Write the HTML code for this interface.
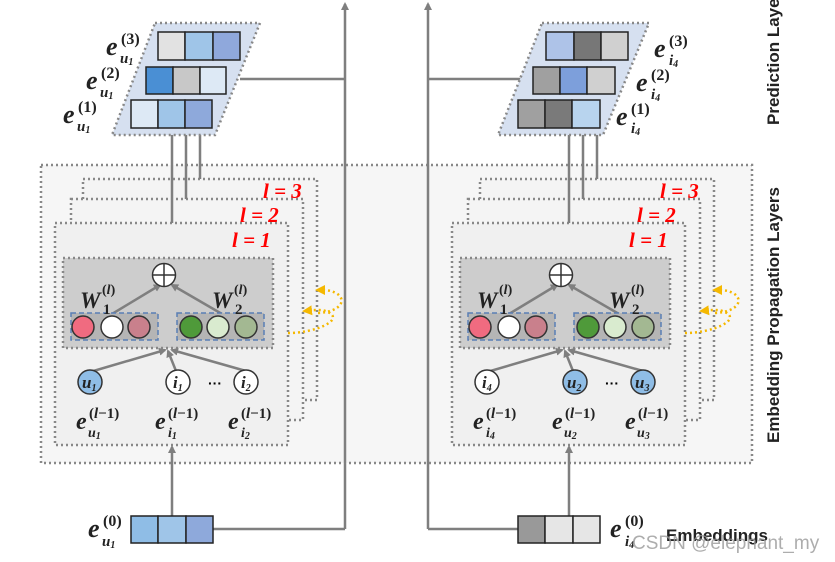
<!DOCTYPE html>
<html><head><meta charset="utf-8"><style>
html,body{margin:0;padding:0;background:#fff;}
svg{display:block;}
.m{font-family:"Liberation Serif",serif;font-weight:bold;font-style:italic;fill:#222;}
.n{font-family:"Liberation Serif",serif;font-weight:bold;fill:#222;}
.r{font-family:"Liberation Serif",serif;font-weight:bold;font-style:italic;fill:#f00;font-size:21px;}
.d{stroke:#888;stroke-width:2.5;stroke-dasharray:2 3;}
.ln{stroke:#7f7f7f;stroke-width:2.5;fill:none;}
.c{stroke:#333;stroke-width:1.5;}
</style></head><body>
<svg width="835" height="562" viewBox="0 0 835 562" xmlns="http://www.w3.org/2000/svg">
<defs>
<marker id="a" markerWidth="8" markerHeight="8" refX="6" refY="4" orient="auto" markerUnits="userSpaceOnUse"><path d="M0,0 L8,4 L0,8 Z" fill="#7f7f7f"/></marker>
<marker id="y" markerWidth="10" markerHeight="10" refX="7" refY="5" orient="auto" markerUnits="userSpaceOnUse"><path d="M0,0 L10,5 L0,10 Z" fill="#f5b800"/></marker>
</defs>
<rect x="41" y="165" width="711" height="298" style="fill:#f6f6f6" class="d"/>
<line x1="345" y1="529" x2="345" y2="4" class="ln" marker-end="url(#a)"/>
<line x1="213" y1="529" x2="345" y2="529" class="ln"/>
<line x1="240" y1="79" x2="345" y2="79" class="ln"/>
<line x1="428" y1="529" x2="428" y2="4" class="ln" marker-end="url(#a)"/>
<line x1="428" y1="529" x2="518" y2="529" class="ln"/>
<line x1="428" y1="79" x2="533" y2="79" class="ln"/>

<g id="L">
<rect x="83" y="179" width="234" height="221" style="fill:#f4f4f4" class="d"/>
<rect x="71" y="199" width="232" height="221" style="fill:#f4f4f4" class="d"/>
<rect x="55" y="223" width="233" height="222" style="fill:#f0f0f0" class="d"/>
<rect x="63" y="258" width="210" height="90" style="fill:#cdcdcd" class="d"/>
<text class="r" x="263" y="198">l = 3</text>
<text class="r" x="240" y="222">l = 2</text>
<text class="r" x="232" y="247">l = 1</text>
<line x1="112" y1="314" x2="160" y2="285" class="ln" marker-end="url(#a)"/>
<line x1="222" y1="314" x2="172" y2="285" class="ln" marker-end="url(#a)"/>
<circle cx="164" cy="275" r="11.5" fill="#fff" class="c"/>
<line x1="152.5" y1="275" x2="175.5" y2="275" stroke="#333" stroke-width="1.5"/>
<line x1="164" y1="263.5" x2="164" y2="286.5" stroke="#333" stroke-width="1.5"/>
<rect x="71" y="313" width="87" height="27" fill="#b5b5b5" stroke="#5a7fb5" stroke-width="1.5" stroke-dasharray="5 3"/>
<rect x="177" y="313" width="87" height="27" fill="#b5b5b5" stroke="#5a7fb5" stroke-width="1.5" stroke-dasharray="5 3"/>
<line x1="90" y1="372" x2="165" y2="350" class="ln" marker-end="url(#a)"/>
<line x1="176" y1="371" x2="168" y2="351" class="ln" marker-end="url(#a)"/>
<line x1="246" y1="371" x2="172" y2="350" class="ln" marker-end="url(#a)"/>
<line x1="172" y1="223" x2="172" y2="129" class="ln" marker-end="url(#a)"/>
<line x1="186" y1="199" x2="186" y2="96" class="ln" marker-end="url(#a)"/>
<line x1="200" y1="179" x2="200" y2="62" class="ln" marker-end="url(#a)"/>
<line x1="172" y1="516" x2="172" y2="447" class="ln" marker-end="url(#a)"/>
<path d="M288,333 C315,333 345,320 328,312 C322,309 315,310 305,311" fill="none" stroke="#f5b800" stroke-width="2.5" stroke-dasharray="2 3" marker-end="url(#y)"/>
<path d="M318,313 C340,312 348,300 336,293 C330,290 325,290 318,290" fill="none" stroke="#f5b800" stroke-width="2.5" stroke-dasharray="2 3" marker-end="url(#y)"/>
<!-- W labels -->
<text class="m" x="80" y="308" font-size="23">W</text>
<text class="n" x="102" y="294" font-size="14">(<tspan font-style="italic">l</tspan>)</text>
<text class="n" x="103" y="314" font-size="15">1</text>
<text class="m" x="212" y="308" font-size="23">W</text>
<text class="n" x="234" y="294" font-size="14">(<tspan font-style="italic">l</tspan>)</text>
<text class="n" x="235" y="314" font-size="15">2</text>
<text x="208" y="388" font-family="Liberation Sans" font-weight="bold" font-size="14">···</text>
</g>
<g transform="translate(397,0)"><use href="#L"/></g>

<!-- left nodes -->
<circle cx="83" cy="327" r="11" fill="#f06b80" class="c"/>
<circle cx="112" cy="327" r="11" fill="#fff" class="c"/>
<circle cx="139" cy="327" r="11" fill="#c9808c" class="c"/>
<circle cx="191" cy="327" r="11" fill="#4f9a3a" class="c"/>
<circle cx="218" cy="327" r="11" fill="#d9ebcf" class="c"/>
<circle cx="246" cy="327" r="11" fill="#a3b892" class="c"/>
<circle cx="90" cy="382" r="12" fill="#8fbde6" class="c"/>
<circle cx="178" cy="382" r="12" fill="#fff" class="c"/>
<circle cx="246" cy="382" r="12" fill="#fff" class="c"/>
<text class="m" x="82" y="388" font-size="17">u<tspan font-size="10" dy="3">1</tspan></text>
<text class="m" x="173" y="388" font-size="17">i<tspan font-size="10" dy="3">1</tspan></text>
<text class="m" x="241" y="388" font-size="17">i<tspan font-size="10" dy="3">2</tspan></text>

<!-- right nodes -->
<circle cx="480" cy="327" r="11" fill="#f06b80" class="c"/>
<circle cx="509" cy="327" r="11" fill="#fff" class="c"/>
<circle cx="536" cy="327" r="11" fill="#c9808c" class="c"/>
<circle cx="588" cy="327" r="11" fill="#4f9a3a" class="c"/>
<circle cx="615" cy="327" r="11" fill="#d9ebcf" class="c"/>
<circle cx="643" cy="327" r="11" fill="#a3b892" class="c"/>
<circle cx="487" cy="382" r="12" fill="#fff" class="c"/>
<circle cx="575" cy="382" r="12" fill="#8fbde6" class="c"/>
<circle cx="643" cy="382" r="12" fill="#8fbde6" class="c"/>
<text class="m" x="482" y="388" font-size="17">i<tspan font-size="10" dy="3">4</tspan></text>
<text class="m" x="567" y="388" font-size="17">u<tspan font-size="10" dy="3">2</tspan></text>
<text class="m" x="635" y="388" font-size="17">u<tspan font-size="10" dy="3">3</tspan></text>

<!-- e^(l-1) labels -->
<g>
<text class="m" x="76" y="429" font-size="24">e</text><text class="n" x="89" y="418" font-size="15">(<tspan font-style="italic">l</tspan>−1)</text><text class="m" x="88" y="437" font-size="14">u<tspan font-size="10" dy="2">1</tspan></text>
<text class="m" x="155" y="429" font-size="24">e</text><text class="n" x="168" y="418" font-size="15">(<tspan font-style="italic">l</tspan>−1)</text><text class="m" x="168" y="437" font-size="14">i<tspan font-size="10" dy="2">1</tspan></text>
<text class="m" x="228" y="429" font-size="24">e</text><text class="n" x="241" y="418" font-size="15">(<tspan font-style="italic">l</tspan>−1)</text><text class="m" x="241" y="437" font-size="14">i<tspan font-size="10" dy="2">2</tspan></text>
<text class="m" x="473" y="429" font-size="24">e</text><text class="n" x="486" y="418" font-size="15">(<tspan font-style="italic">l</tspan>−1)</text><text class="m" x="486" y="437" font-size="14">i<tspan font-size="10" dy="2">4</tspan></text>
<text class="m" x="552" y="429" font-size="24">e</text><text class="n" x="565" y="418" font-size="15">(<tspan font-style="italic">l</tspan>−1)</text><text class="m" x="564" y="437" font-size="14">u<tspan font-size="10" dy="2">2</tspan></text>
<text class="m" x="625" y="429" font-size="24">e</text><text class="n" x="638" y="418" font-size="15">(<tspan font-style="italic">l</tspan>−1)</text><text class="m" x="637" y="437" font-size="14">u<tspan font-size="10" dy="2">3</tspan></text>
</g>

<!-- top left parallelogram -->
<polygon points="155,23 260,23 215,135 112,135" style="fill:#d6e0f0" class="d"/>
<g stroke="#222" stroke-width="1.5">
<rect x="158" y="32" width="27" height="28" fill="#e2e2e2"/><rect x="185" y="32" width="28" height="28" fill="#9fc5e8"/><rect x="213" y="32" width="27" height="28" fill="#8fa8dc"/>
<rect x="146" y="67" width="27" height="27" fill="#4a8fd4"/><rect x="173" y="67" width="27" height="27" fill="#c8c8c8"/><rect x="200" y="67" width="26" height="27" fill="#dde9f5"/>
<rect x="131" y="100" width="27" height="28" fill="#dde9f5"/><rect x="158" y="100" width="27" height="28" fill="#9fc5e8"/><rect x="185" y="100" width="27" height="28" fill="#8ea9db"/>
</g>
<g>
<text class="m" x="106" y="55" font-size="26">e</text><text class="n" x="121" y="44" font-size="16">(3)</text><text class="m" x="120" y="63" font-size="15">u<tspan font-size="10" dy="2">1</tspan></text>
<text class="m" x="86" y="89" font-size="26">e</text><text class="n" x="101" y="78" font-size="16">(2)</text><text class="m" x="100" y="97" font-size="15">u<tspan font-size="10" dy="2">1</tspan></text>
<text class="m" x="63" y="123" font-size="26">e</text><text class="n" x="78" y="112" font-size="16">(1)</text><text class="m" x="77" y="131" font-size="15">u<tspan font-size="10" dy="2">1</tspan></text>
</g>

<!-- top right parallelogram -->
<polygon points="542,23 649,23 603,135 498,135" style="fill:#d6e0f0" class="d"/>
<g stroke="#222" stroke-width="1.5">
<rect x="546" y="32" width="28" height="28" fill="#aec3e8"/><rect x="574" y="32" width="27" height="28" fill="#777"/><rect x="601" y="32" width="27" height="28" fill="#d0d0d0"/>
<rect x="533" y="67" width="27" height="27" fill="#a0a0a0"/><rect x="560" y="67" width="27" height="27" fill="#7d9fdb"/><rect x="587" y="67" width="28" height="27" fill="#d0d0d0"/>
<rect x="518" y="100" width="27" height="28" fill="#a0a0a0"/><rect x="545" y="100" width="27" height="28" fill="#7a7a7a"/><rect x="572" y="100" width="28" height="28" fill="#b8d4ee"/>
</g>
<g>
<text class="m" x="654" y="57" font-size="26">e</text><text class="n" x="669" y="46" font-size="16">(3)</text><text class="m" x="669" y="65" font-size="15">i<tspan font-size="10" dy="2">4</tspan></text>
<text class="m" x="636" y="91" font-size="26">e</text><text class="n" x="651" y="80" font-size="16">(2)</text><text class="m" x="651" y="99" font-size="15">i<tspan font-size="10" dy="2">4</tspan></text>
<text class="m" x="616" y="125" font-size="26">e</text><text class="n" x="631" y="114" font-size="16">(1)</text><text class="m" x="631" y="133" font-size="15">i<tspan font-size="10" dy="2">4</tspan></text>
</g>

<!-- bottom embeddings -->
<g stroke="#222" stroke-width="1.5">
<rect x="131" y="516" width="27" height="27" fill="#8fbde6"/><rect x="158" y="516" width="28" height="27" fill="#9fc5e8"/><rect x="186" y="516" width="27" height="27" fill="#8ea9db"/>
<rect x="518" y="516" width="27" height="27" fill="#999"/><rect x="545" y="516" width="28" height="27" fill="#e6e6e6"/><rect x="573" y="516" width="27" height="27" fill="#e6e6e6"/>
</g>
<text class="m" x="88" y="537" font-size="26">e</text><text class="n" x="103" y="526" font-size="16">(0)</text><text class="m" x="102" y="546" font-size="15">u<tspan font-size="10" dy="2">1</tspan></text>
<text class="m" x="610" y="537" font-size="26">e</text><text class="n" x="625" y="526" font-size="16">(0)</text><text class="m" x="625" y="546" font-size="15">i<tspan font-size="10" dy="2">4</tspan></text>
<text x="666" y="541" font-family="Liberation Sans" font-weight="bold" font-size="17" fill="#222">Embeddings</text>
<text x="632" y="549" font-family="Liberation Sans" font-size="19" fill="#999" fill-opacity="0.8">CSDN @elephant_my</text>

<text transform="translate(779,315) rotate(-90)" text-anchor="middle" font-family="Liberation Sans" font-weight="bold" font-size="17" fill="#222">Embedding Propagation Layers</text>
<text transform="translate(779,125) rotate(-90)" font-family="Liberation Sans" font-weight="bold" font-size="17" fill="#222">Prediction Layer</text>
</svg>
</body></html>
